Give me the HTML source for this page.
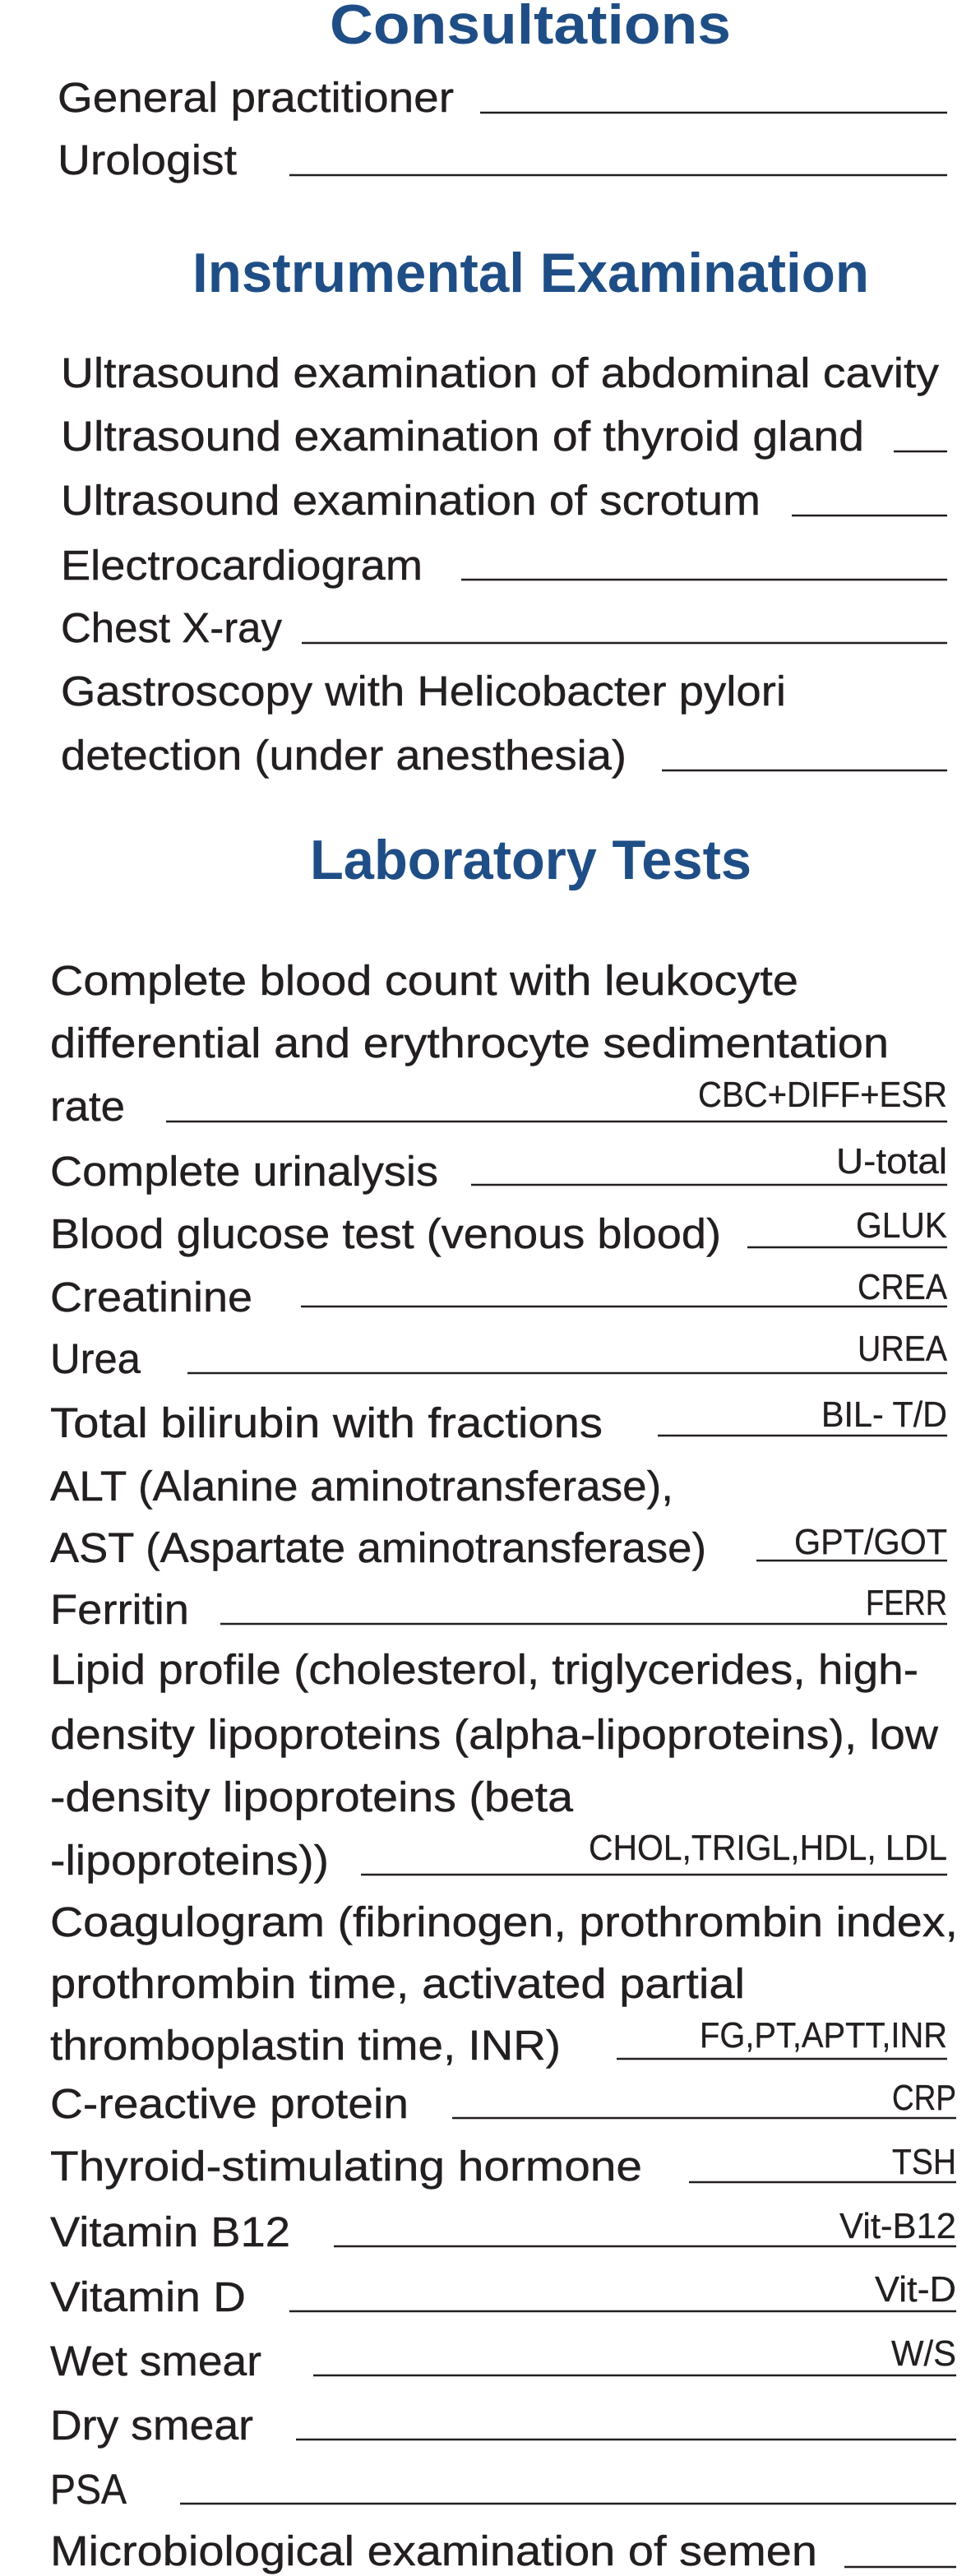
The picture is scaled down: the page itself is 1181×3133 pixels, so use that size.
<!DOCTYPE html>
<html><head><meta charset="utf-8"><style>
html,body{margin:0;padding:0;background:#fff;}
svg{display:block;}
.t{font-family:"Liberation Sans",Arial,sans-serif;font-size:51px;fill:#231f20;stroke:#231f20;stroke-width:0.4;}
.c{font-family:"Liberation Sans",Arial,sans-serif;font-size:44px;fill:#231f20;stroke:#231f20;stroke-width:0.3;}
.h{font-family:"Liberation Sans",Arial,sans-serif;font-weight:bold;font-size:68px;fill:#1f4e86;}
line{stroke:#231f20;stroke-width:2.5;}
</style></head><body>
<svg width="1181" height="3133" viewBox="0 0 1181 3133" xmlns="http://www.w3.org/2000/svg">
<text class="h" x="401" y="53" textLength="488" lengthAdjust="spacingAndGlyphs">Consultations</text>
<text class="t" x="70" y="136" textLength="482" lengthAdjust="spacingAndGlyphs">General practitioner</text>
<line x1="584" y1="137" x2="1152" y2="137"/>
<text class="t" x="70" y="212" textLength="218" lengthAdjust="spacingAndGlyphs">Urologist</text>
<line x1="352" y1="213" x2="1152" y2="213"/>

<text class="h" x="234" y="355" textLength="823" lengthAdjust="spacingAndGlyphs">Instrumental Examination</text>
<text class="t" x="74" y="471" textLength="1068" lengthAdjust="spacingAndGlyphs">Ultrasound examination of abdominal cavity</text>
<text class="t" x="74" y="548" textLength="977" lengthAdjust="spacingAndGlyphs">Ultrasound examination of thyroid gland</text>
<line x1="1087" y1="549" x2="1152" y2="549"/>
<text class="t" x="74" y="626" textLength="851" lengthAdjust="spacingAndGlyphs">Ultrasound examination of scrotum</text>
<line x1="963" y1="627" x2="1152" y2="627"/>
<text class="t" x="74" y="705" textLength="440" lengthAdjust="spacingAndGlyphs">Electrocardiogram</text>
<line x1="561" y1="705" x2="1152" y2="705"/>
<text class="t" x="74" y="781" textLength="269" lengthAdjust="spacingAndGlyphs">Chest X-ray</text>
<line x1="367" y1="782" x2="1152" y2="782"/>
<text class="t" x="74" y="858" textLength="882" lengthAdjust="spacingAndGlyphs">Gastroscopy with Helicobacter pylori</text>
<text class="t" x="74" y="936" textLength="688" lengthAdjust="spacingAndGlyphs">detection (under anesthesia)</text>
<line x1="805" y1="937" x2="1152" y2="937"/>

<text class="h" x="377" y="1069" textLength="537" lengthAdjust="spacingAndGlyphs">Laboratory Tests</text>
<text class="t" x="61" y="1210" textLength="910" lengthAdjust="spacingAndGlyphs">Complete blood count with leukocyte</text>
<text class="t" x="61" y="1286" textLength="1020" lengthAdjust="spacingAndGlyphs">differential and erythrocyte sedimentation</text>
<text class="t" x="61" y="1363" textLength="91" lengthAdjust="spacingAndGlyphs">rate</text>
<line x1="202" y1="1364" x2="1152" y2="1364"/>
<text class="c" x="849" y="1346" textLength="303" lengthAdjust="spacingAndGlyphs">CBC+DIFF+ESR</text>
<text class="t" x="61" y="1442" textLength="472" lengthAdjust="spacingAndGlyphs">Complete urinalysis</text>
<line x1="573" y1="1441" x2="1152" y2="1441"/>
<text class="c" x="1017" y="1427" textLength="135" lengthAdjust="spacingAndGlyphs">U-total</text>
<text class="t" x="61" y="1518" textLength="816" lengthAdjust="spacingAndGlyphs">Blood glucose test (venous blood)</text>
<line x1="909" y1="1517" x2="1152" y2="1517"/>
<text class="c" x="1041" y="1505" textLength="111" lengthAdjust="spacingAndGlyphs">GLUK</text>
<text class="t" x="61" y="1595" textLength="246" lengthAdjust="spacingAndGlyphs">Creatinine</text>
<line x1="366" y1="1589" x2="1152" y2="1589"/>
<text class="c" x="1043" y="1580" textLength="109" lengthAdjust="spacingAndGlyphs">CREA</text>
<text class="t" x="61" y="1670" textLength="110" lengthAdjust="spacingAndGlyphs">Urea</text>
<line x1="228" y1="1670" x2="1152" y2="1670"/>
<text class="c" x="1043" y="1655" textLength="109" lengthAdjust="spacingAndGlyphs">UREA</text>
<text class="t" x="61" y="1748" textLength="672" lengthAdjust="spacingAndGlyphs">Total bilirubin with fractions</text>
<line x1="800" y1="1746" x2="1152" y2="1746"/>
<text class="c" x="999" y="1735" textLength="153" lengthAdjust="spacingAndGlyphs">BIL- T/D</text>
<text class="t" x="61" y="1825" textLength="758" lengthAdjust="spacingAndGlyphs">ALT (Alanine aminotransferase),</text>
<text class="t" x="61" y="1900" textLength="798" lengthAdjust="spacingAndGlyphs">AST (Aspartate aminotransferase)</text>
<line x1="920" y1="1898" x2="1152" y2="1898"/>
<text class="c" x="966" y="1890" textLength="186" lengthAdjust="spacingAndGlyphs">GPT/GOT</text>
<text class="t" x="61" y="1975" textLength="169" lengthAdjust="spacingAndGlyphs">Ferritin</text>
<line x1="268" y1="1975" x2="1152" y2="1975"/>
<text class="c" x="1053" y="1964" textLength="99" lengthAdjust="spacingAndGlyphs">FERR</text>
<text class="t" x="61" y="2048" textLength="1056" lengthAdjust="spacingAndGlyphs">Lipid profile (cholesterol, triglycerides, high-</text>
<text class="t" x="61" y="2127" textLength="1080" lengthAdjust="spacingAndGlyphs">density lipoproteins (alpha-lipoproteins), low</text>
<text class="t" x="61" y="2203" textLength="636" lengthAdjust="spacingAndGlyphs">-density lipoproteins (beta</text>
<text class="t" x="61" y="2280" textLength="339" lengthAdjust="spacingAndGlyphs">-lipoproteins))</text>
<line x1="439" y1="2280" x2="1152" y2="2280"/>
<text class="c" x="716" y="2262" textLength="436" lengthAdjust="spacingAndGlyphs">CHOL,TRIGL,HDL, LDL</text>
<text class="t" x="61" y="2355" textLength="1104" lengthAdjust="spacingAndGlyphs">Coagulogram (fibrinogen, prothrombin index,</text>
<text class="t" x="61" y="2430" textLength="845" lengthAdjust="spacingAndGlyphs">prothrombin time, activated partial</text>
<text class="t" x="61" y="2505" textLength="621" lengthAdjust="spacingAndGlyphs">thromboplastin time, INR)</text>
<line x1="750" y1="2504" x2="1152" y2="2504"/>
<text class="c" x="851" y="2490" textLength="301" lengthAdjust="spacingAndGlyphs">FG,PT,APTT,INR</text>
<text class="t" x="61" y="2576" textLength="436" lengthAdjust="spacingAndGlyphs">C-reactive protein</text>
<line x1="550" y1="2576" x2="1163" y2="2576"/>
<text class="c" x="1085" y="2566" textLength="78" lengthAdjust="spacingAndGlyphs">CRP</text>
<text class="t" x="61" y="2652" textLength="720" lengthAdjust="spacingAndGlyphs">Thyroid-stimulating hormone</text>
<line x1="838" y1="2654" x2="1163" y2="2654"/>
<text class="c" x="1085" y="2644" textLength="78" lengthAdjust="spacingAndGlyphs">TSH</text>
<text class="t" x="61" y="2732" textLength="292" lengthAdjust="spacingAndGlyphs">Vitamin B12</text>
<line x1="406" y1="2732" x2="1163" y2="2732"/>
<text class="c" x="1021" y="2722" textLength="142" lengthAdjust="spacingAndGlyphs">Vit-B12</text>
<text class="t" x="61" y="2811" textLength="238" lengthAdjust="spacingAndGlyphs">Vitamin D</text>
<line x1="352" y1="2811" x2="1163" y2="2811"/>
<text class="c" x="1064" y="2799" textLength="99" lengthAdjust="spacingAndGlyphs">Vit-D</text>
<text class="t" x="61" y="2889" textLength="257" lengthAdjust="spacingAndGlyphs">Wet smear</text>
<line x1="381" y1="2889" x2="1163" y2="2889"/>
<text class="c" x="1084" y="2877" textLength="79" lengthAdjust="spacingAndGlyphs">W/S</text>
<text class="t" x="61" y="2967" textLength="247" lengthAdjust="spacingAndGlyphs">Dry smear</text>
<line x1="360" y1="2967" x2="1163" y2="2967"/>
<text class="t" x="61" y="3045" textLength="93" lengthAdjust="spacingAndGlyphs">PSA</text>
<line x1="219" y1="3045" x2="1163" y2="3045"/>
<text class="t" x="61" y="3120" textLength="933" lengthAdjust="spacingAndGlyphs">Microbiological examination of semen</text>
<line x1="1027" y1="3122" x2="1163" y2="3122"/>
</svg>
</body></html>
